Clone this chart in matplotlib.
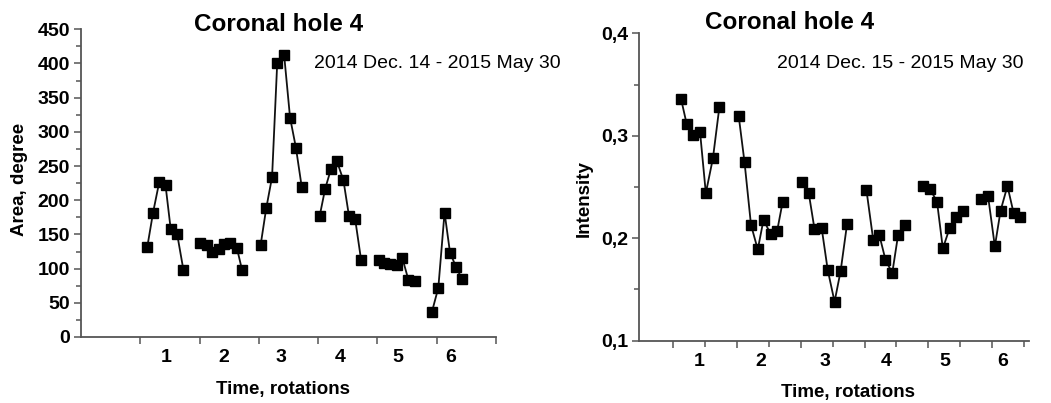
import matplotlib
matplotlib.use("Agg")
import matplotlib.pyplot as plt
from matplotlib.ticker import MultipleLocator, FixedLocator, NullFormatter, FuncFormatter

plt.rcParams["font.family"] = ["Liberation Sans", "DejaVu Sans"]

# ── data (time in rotations, one list per pass) ─────────────────────────────────────
rotation_labels = ["1", "2", "3", "4", "5", "6"]

area_t = [
    [0.616, 0.715, 0.820, 0.925, 1.012, 1.122, 1.227],
    [1.506, 1.617, 1.716, 1.821, 1.908, 2.012, 2.129, 2.216],
    [2.530, 2.623, 2.722, 2.809, 2.926, 3.025, 3.124, 3.223],
    [3.525, 3.618, 3.717, 3.816, 3.926, 4.019, 4.124, 4.223],
    [4.520, 4.613, 4.718, 4.822, 4.921, 5.020, 5.125],
    [5.416, 5.526, 5.631, 5.724, 5.823, 5.922],
]
area_val = [
    [131, 182, 227, 222, 158, 150, 98],
    [138, 135, 124, 129, 136, 137, 130, 98],
    [135, 188, 234, 401, 412, 321, 277, 219],
    [177, 217, 246, 257, 229, 177, 172, 113],
    [113, 108, 107, 105, 115, 84, 82],
    [36, 72, 182, 123, 103, 85],
]
area_label_x = [0.94, 1.91, 2.87, 3.87, 4.85, 5.74]

int_t = [
    [0.628, 0.718, 0.808, 0.925, 1.016, 1.127, 1.228],
    [1.531, 1.622, 1.723, 1.829, 1.919, 2.031, 2.132, 2.217],
    [2.520, 2.627, 2.717, 2.829, 2.924, 3.031, 3.126, 3.227],
    [3.530, 3.637, 3.732, 3.828, 3.934, 4.025, 4.131],
    [4.423, 4.530, 4.636, 4.726, 4.833, 4.934, 5.035],
    [5.322, 5.434, 5.540, 5.630, 5.737, 5.832, 5.933],
]
int_val = [
    [0.336, 0.311, 0.301, 0.304, 0.244, 0.278, 0.328],
    [0.319, 0.274, 0.213, 0.189, 0.218, 0.204, 0.207, 0.235],
    [0.255, 0.244, 0.209, 0.210, 0.169, 0.138, 0.168, 0.214],
    [0.247, 0.198, 0.203, 0.179, 0.166, 0.203, 0.213],
    [0.251, 0.248, 0.235, 0.190, 0.210, 0.221, 0.227],
    [0.238, 0.241, 0.192, 0.227, 0.251, 0.225, 0.221],
]
int_label_x = [0.91, 1.88, 2.88, 3.84, 4.75, 5.66]

SPINE = "#555555"
TICK_FS = 14


def style_axes(ax):
    for s in ("top", "right"):
        ax.spines[s].set_visible(False)
    for s in ("left", "bottom"):
        ax.spines[s].set_color(SPINE)
        ax.spines[s].set_linewidth(1.3)
    ax.tick_params(which="both", direction="out", color=SPINE, width=1.1)
    ax.tick_params(which="major", length=5)
    ax.tick_params(which="minor", length=3.5)
    ax.tick_params(axis="y", which="major", labelsize=TICK_FS, pad=3)
    for lbl in ax.get_yticklabels():
        lbl.set_fontweight("bold")


def draw_series(ax, ts, vs):
    for t, v in zip(ts, vs):
        ax.plot(t, v, color="#111111", lw=1.3, marker="s", ms=7.2,
                mfc="black", mec="black", clip_on=False)


def rotation_labels_axis(ax, xs):
    sec = ax.secondary_xaxis("bottom")
    sec.set_xticks(xs, rotation_labels)
    sec.spines["bottom"].set_visible(False)
    sec.tick_params(length=0, pad=9, labelsize=TICK_FS)
    for lbl in sec.get_xticklabels():
        lbl.set_fontweight("bold")


fig = plt.figure(figsize=(10.51, 4.03), dpi=100)
ax1 = fig.add_axes([0.0771, 0.1638, 0.3949, 0.7635])
ax2 = fig.add_axes([0.6083, 0.1546, 0.3711, 0.7628])

# ── left: area ──────────────────────────────────────────────────────────────────────
draw_series(ax1, area_t, area_val)
ax1.set_xlim(-0.5, 6.5)
ax1.set_ylim(0, 450)
ax1.yaxis.set_major_locator(MultipleLocator(50))
ax1.yaxis.set_minor_locator(MultipleLocator(25))
ax1.xaxis.set_major_locator(FixedLocator([0.5, 1.5, 2.5, 3.5, 4.5, 5.5, 6.5]))
ax1.xaxis.set_major_formatter(NullFormatter())
style_axes(ax1)
rotation_labels_axis(ax1, area_label_x)
ax1.set_ylabel("Area, degree", fontsize=13.5, fontweight="bold", va="center")
ax1.yaxis.set_label_coords(-0.149, 0.513)
ax1.set_xlabel("Time, rotations", fontsize=13.5, fontweight="bold", va="center")
ax1.xaxis.set_label_coords(0.4875, -0.172)
ax1.text(0.475, 1.014, "Coronal hole 4", transform=ax1.transAxes, ha="center",
         va="center", fontsize=17.5, fontweight="bold")
ax1.text(0.561, 0.890, "2014 Dec. 14 - 2015 May 30", transform=ax1.transAxes,
         ha="left", va="center", fontsize=14)

# ── right: intensity ────────────────────────────────────────────────────────────────
draw_series(ax2, int_t, int_val)
ax2.set_xlim(-0.025, 6.08)
ax2.set_ylim(0.1, 0.4)
ax2.yaxis.set_major_locator(MultipleLocator(0.1))
ax2.yaxis.set_minor_locator(MultipleLocator(0.05))
ax2.yaxis.set_major_formatter(FuncFormatter(lambda v, _: f"{v:.1f}".replace(".", ",")))
ax2.xaxis.set_major_locator(FixedLocator([0.5, 1.5, 2.5, 3.5, 4.5, 5.5]))
ax2.xaxis.set_minor_locator(FixedLocator([1, 2, 3, 4, 5, 6]))
ax2.xaxis.set_major_formatter(NullFormatter())
style_axes(ax2)
ax2.tick_params(axis="x", which="minor", length=4)
rotation_labels_axis(ax2, int_label_x)
ax2.set_ylabel("Intensity", fontsize=13.5, fontweight="bold", va="center")
ax2.yaxis.set_label_coords(-0.141, 0.461)
ax2.set_xlabel("Time, rotations", fontsize=13.5, fontweight="bold", va="center")
ax2.xaxis.set_label_coords(0.534, -0.167)
ax2.text(0.384, 1.0335, "Coronal hole 4", transform=ax2.transAxes, ha="center",
         va="center", fontsize=17.5, fontweight="bold")
ax2.text(0.354, 0.902, "2014 Dec. 15 - 2015 May 30", transform=ax2.transAxes,
         ha="left", va="center", fontsize=14)

fig.savefig("out.png", dpi=100)
